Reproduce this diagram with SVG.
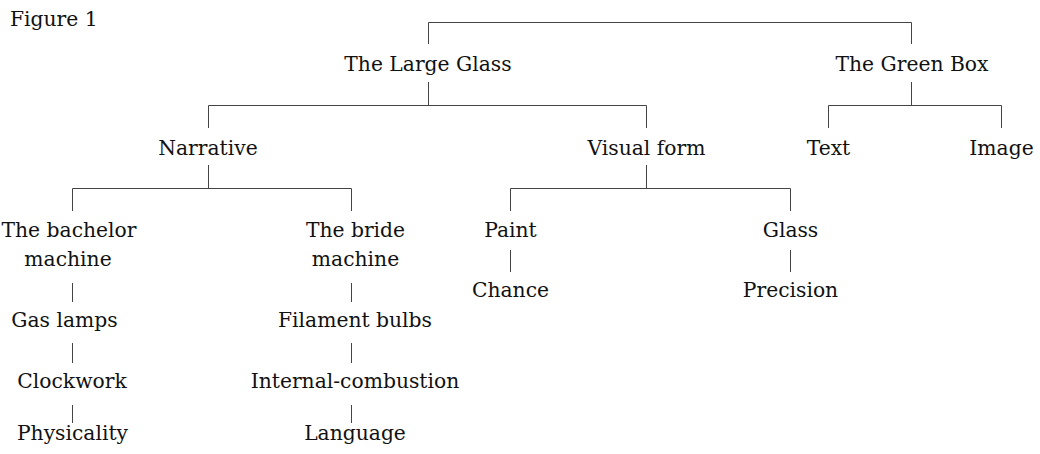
<svg xmlns="http://www.w3.org/2000/svg" width="1040" height="454" viewBox="0 0 1040 454">
<style>
text{font-family:"DejaVu Serif","Liberation Serif",serif;font-size:20.3px;fill:#111;text-anchor:middle}
.conn path{fill:none;stroke:#444;stroke-width:1}
</style>
<rect width="1040" height="454" fill="#fff"/>
<g class="conn">
<path d="M428.5 44V22.5H911.5V44"/>
<path d="M428.5 82V105.5M208.5 128V105.5H646.5V128"/>
<path d="M911.5 82V105.5M828.5 128V105.5H1001.5V128"/>
<path d="M208.5 165V188.5M72.5 211V188.5H351.5V211"/>
<path d="M646.5 165V188.5M510.5 211V188.5H790.5V211"/>
<path d="M72.5 283V302M72.5 343V363M72.5 405V423"/>
<path d="M351.5 283V302M351.5 343V363M351.5 405V423"/>
<path d="M510.5 250V272M790.5 250V272"/>
</g>
<g id="figure-label"><text x="10" y="26" style="text-anchor:start">Figure 1</text></g>
<g id="large-glass"><text x="428" y="70.5">The Large Glass</text></g>
<g id="green-box"><text x="912" y="70.5">The Green Box</text></g>
<g id="narrative"><text x="208" y="155">Narrative</text></g>
<g id="visual-form"><text x="646.5" y="155">Visual form</text></g>
<g id="text-node"><text x="828.5" y="155">Text</text></g>
<g id="image-node"><text x="1001.5" y="155">Image</text></g>
<g id="bachelor"><text x="69" y="237">The bachelor</text><text x="68" y="265.5">machine</text></g>
<g id="bride"><text x="355.5" y="237">The bride</text><text x="355.5" y="265.5">machine</text></g>
<g id="gas-lamps"><text x="64.5" y="327">Gas lamps</text></g>
<g id="clockwork"><text x="72" y="388">Clockwork</text></g>
<g id="physicality"><text x="72.5" y="440">Physicality</text></g>
<g id="filament"><text x="355" y="327">Filament bulbs</text></g>
<g id="internal"><text x="355" y="388">Internal-combustion</text></g>
<g id="language"><text x="355" y="440">Language</text></g>
<g id="paint"><text x="510.5" y="237">Paint</text></g>
<g id="chance"><text x="510.5" y="297">Chance</text></g>
<g id="glass"><text x="790.5" y="237">Glass</text></g>
<g id="precision"><text x="790.5" y="297">Precision</text></g>
</svg>
